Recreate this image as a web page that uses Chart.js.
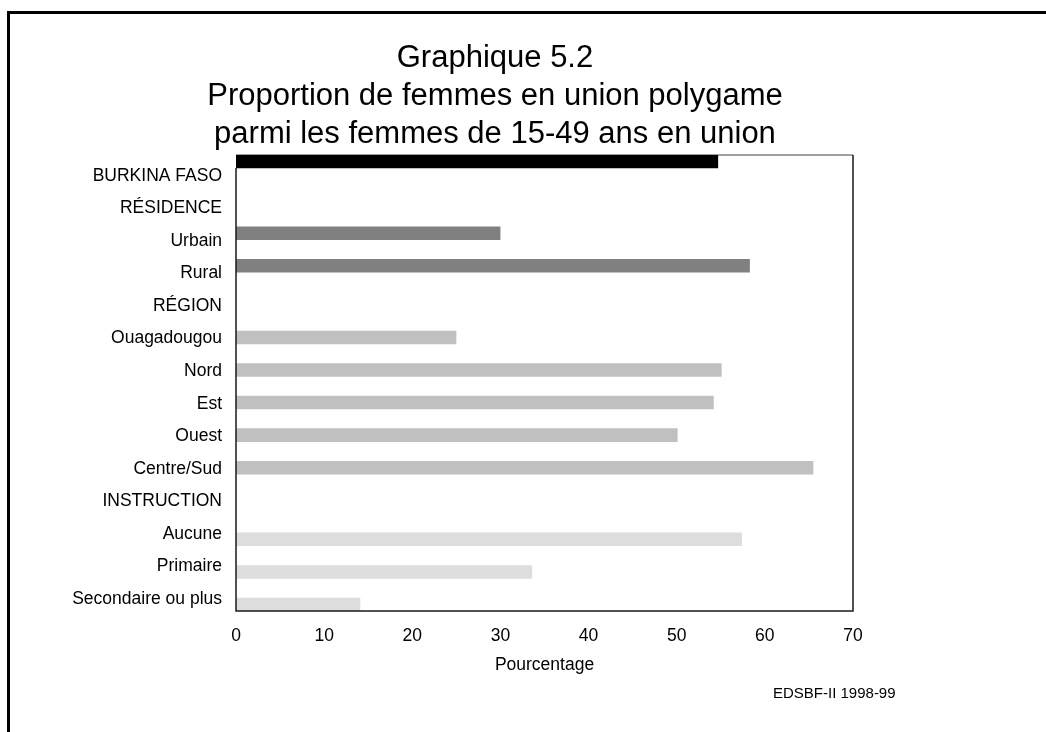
<!DOCTYPE html>
<html>
<head>
<meta charset="utf-8">
<script src="https://cdn.jsdelivr.net/npm/chart.js@4/dist/chart.umd.min.js"></script>
<style>
  html, body { margin: 0; padding: 0; background: #fff; overflow: hidden; }
  #wrap { position: relative; width: 1046px; height: 732px; overflow: hidden; font-family: "Liberation Sans", Arial, sans-serif; }
  #frame { position: absolute; left: 7px; top: 11px; width: 1100px; height: 800px; border-left: 3px solid #000; border-top: 3px solid #000; }
  #title { position: absolute; left: 0; top: 38px; width: 990px; text-align: center; font-size: 31px; line-height: 38px; color: #000; }
  #source { position: absolute; left: 773px; top: 685px; font-size: 15px; line-height: 15px; color: #000; white-space: nowrap; }
  canvas { position: absolute; left: 0; top: 0; }
</style>
</head>
<body>
<div id="wrap">
  <div id="frame"></div>
  <canvas id="c" width="1046" height="732"></canvas>
  <div id="title">Graphique 5.2<br>Proportion de femmes en union polygame<br>parmi les femmes de 15-49 ans en union</div>
  <div id="source">EDSBF-II 1998-99</div>
</div>
<script>
const categories = ['BURKINA FASO', 'RÉSIDENCE', 'Urbain', 'Rural', 'RÉGION', 'Ouagadougou', 'Nord', 'Est', 'Ouest', 'Centre/Sud', 'INSTRUCTION', 'Aucune', 'Primaire', 'Secondaire ou plus'];
const ensemble    = [54.7, null, null, null, null, null, null, null, null, null, null, null, null, null];
const residence   = [null, null, 30.0, 58.3, null, null, null, null, null, null, null, null, null, null];
const region      = [null, null, null, null, null, 25.0, 55.1, 54.2, 50.1, 65.5, null, null, null, null];
const instruction = [null, null, null, null, null, null, null, null, null, null, null, 57.4, 33.6, 14.1];
const xTicks = [0, 10, 20, 30, 40, 50, 60, 70];
const xAxisTitle = 'Pourcentage';

Chart.defaults.font.family = '"Liberation Sans", Arial, sans-serif';
Chart.defaults.color = '#000';

const frameBox = {
  id: 'frameBox',
  beforeDatasetsDraw(chart) {
    const a = chart.chartArea, ctx = chart.ctx;
    ctx.save();
    ctx.lineWidth = 1.5;
    ctx.strokeStyle = '#808080';
    ctx.beginPath(); ctx.moveTo(a.left, a.top); ctx.lineTo(a.right, a.top); ctx.stroke();
    ctx.restore();
  },
  afterDatasetsDraw(chart) {
    const a = chart.chartArea, ctx = chart.ctx;
    ctx.save();
    ctx.lineWidth = 1.5;
    ctx.strokeStyle = '#1a1a1a';
    ctx.beginPath();
    ctx.moveTo(a.right, a.top); ctx.lineTo(a.right, a.bottom); ctx.lineTo(a.left, a.bottom); ctx.lineTo(a.left, a.top + 13);
    ctx.stroke();
    ctx.restore();
  }
};

const common = { barPercentage: 2.08, categoryPercentage: 0.8, borderWidth: 0 };

new Chart(document.getElementById('c'), {
  type: 'bar',
  data: {
    labels: categories,
    datasets: [
      Object.assign({ label: 'Ensemble', data: ensemble, backgroundColor: '#000000' }, common),
      Object.assign({ label: 'Résidence', data: residence, backgroundColor: '#808080' }, common),
      Object.assign({ label: 'Région', data: region, backgroundColor: '#c0c0c0' }, common),
      Object.assign({ label: 'Instruction', data: instruction, backgroundColor: '#dddddd' }, common)
    ]
  },
  options: {
    indexAxis: 'y',
    responsive: false,
    animation: false,
    layout: { padding: { top: 155, right: 193, left: 0, bottom: 0 } },
    plugins: { legend: { display: false }, tooltip: { enabled: false }, title: { display: false } },
    scales: {
      x: {
        min: 0, max: 70,
        afterFit(s) { s.height = 121; },
        afterBuildTicks(s) { s.ticks = xTicks.map(v => ({ value: v })); },
        grid: { display: false, drawTicks: false },
        border: { display: false },
        ticks: { font: { size: 17.5 }, padding: 15, color: '#000' },
        title: { display: true, text: xAxisTitle, font: { size: 17.5 }, color: '#000', padding: { top: 0, bottom: 56 } }
      },
      y: {
        afterFit(s) { s.width = 236; },
        grid: { display: false, drawTicks: false },
        border: { display: false },
        ticks: { font: { size: 17.5 }, padding: 14, color: '#000', labelOffset: 4.5, autoSkip: false }
      }
    }
  },
  plugins: [frameBox]
});
</script>
</body>
</html>
